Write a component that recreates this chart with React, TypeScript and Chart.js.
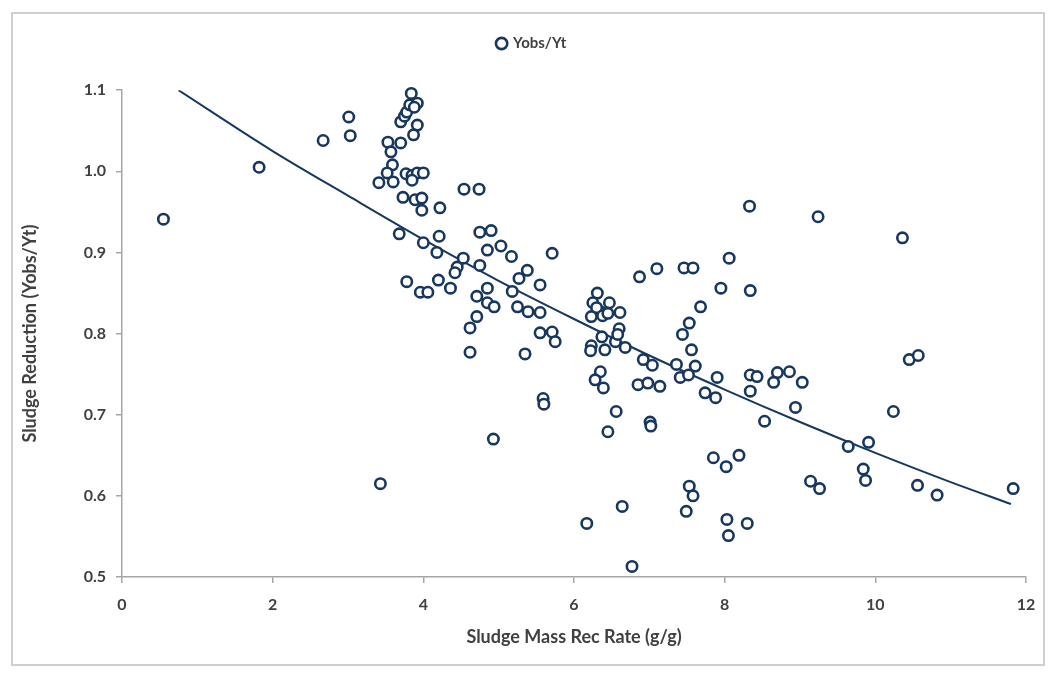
import React, { useEffect, useRef } from "react";
import { Chart, registerables } from "chart.js";

Chart.register(...registerables);

// Scatter observations: Sludge Mass Rec Rate (g/g) vs Yobs/Yt
const rateX: number[] = [
  0.55, 1.82, 2.67, 3.01, 3.03, 3.43, 3.41, 3.53, 3.57, 3.59,
  3.52, 3.60, 3.70, 3.70, 3.75, 3.78, 3.82, 3.84, 3.92, 3.88,
  3.92, 3.87, 3.77, 3.85, 3.92, 4.00, 3.85, 3.73, 3.89, 3.98,
  3.98, 4.22, 3.68, 4.00, 4.21, 4.18, 3.78, 3.96, 4.06, 4.20,
  4.36, 4.45, 4.42, 4.53, 4.54, 4.74, 4.75, 4.90, 4.85, 5.03,
  5.17, 5.71, 4.75, 5.38, 5.27, 5.55, 4.85, 4.71, 5.18, 4.85,
  4.94, 5.25, 5.39, 5.55, 4.71, 4.62, 5.55, 5.71, 5.75, 4.62,
  5.35, 5.59, 5.60, 4.93, 6.31, 6.25, 6.47, 6.35, 6.30, 6.61,
  6.23, 6.38, 6.60, 6.37, 6.23, 6.22, 6.41, 6.55, 6.68, 6.92,
  7.04, 6.35, 6.28, 6.39, 6.85, 6.98, 7.14, 6.56, 6.45, 7.01,
  7.02, 6.17, 6.64, 6.77, 6.87, 7.10, 7.46, 7.58, 8.06, 7.95,
  8.34, 8.33, 7.68, 7.53, 7.44, 7.56, 7.36, 7.61, 7.41, 7.52,
  7.90, 7.74, 7.88, 8.34, 8.43, 8.34, 8.53, 8.70, 8.65, 8.86,
  9.03, 8.94, 7.85, 8.02, 8.19, 7.53, 7.58, 7.49, 8.03, 8.05,
  8.30, 9.24, 9.14, 9.26, 9.64, 9.91, 9.84, 9.87, 10.24, 10.36,
  10.45, 10.57, 10.56, 10.82, 11.83, 6.45, 6.58
];

const yobsYt: number[] = [
  0.941, 1.005, 1.038, 1.067, 1.044, 0.615, 0.986, 1.036, 1.024, 1.008,
  0.998, 0.987, 1.035, 1.061, 1.068, 1.073, 1.082, 1.096, 1.084, 1.079,
  1.057, 1.045, 0.997, 0.995, 0.998, 0.998, 0.989, 0.968, 0.965, 0.967,
  0.952, 0.955, 0.923, 0.912, 0.920, 0.900, 0.864, 0.851, 0.851, 0.866,
  0.856, 0.882, 0.875, 0.893, 0.978, 0.978, 0.925, 0.927, 0.903, 0.908,
  0.895, 0.899, 0.884, 0.878, 0.868, 0.860, 0.856, 0.846, 0.852, 0.838,
  0.833, 0.833, 0.827, 0.826, 0.821, 0.807, 0.801, 0.802, 0.790, 0.777,
  0.775, 0.720, 0.713, 0.670, 0.850, 0.838, 0.838, 0.827, 0.832, 0.826,
  0.821, 0.822, 0.806, 0.796, 0.785, 0.779, 0.780, 0.790, 0.783, 0.768,
  0.761, 0.753, 0.743, 0.733, 0.737, 0.739, 0.735, 0.704, 0.679, 0.691,
  0.686, 0.566, 0.587, 0.513, 0.870, 0.880, 0.881, 0.881, 0.893, 0.856,
  0.853, 0.957, 0.833, 0.813, 0.799, 0.780, 0.762, 0.760, 0.746, 0.749,
  0.746, 0.727, 0.721, 0.749, 0.747, 0.729, 0.692, 0.752, 0.740, 0.753,
  0.740, 0.709, 0.647, 0.636, 0.650, 0.612, 0.600, 0.581, 0.571, 0.551,
  0.566, 0.944, 0.618, 0.609, 0.661, 0.666, 0.633, 0.619, 0.704, 0.918,
  0.768, 0.773, 0.613, 0.601, 0.609, 0.825, 0.799
];

// Trend line
const trendX: number[] = [0.75, 2, 3, 4, 5, 6, 7, 8, 9, 10, 11, 11.8];
const trendY: number[] = [1.1, 1.025, 0.97, 0.916, 0.865, 0.818, 0.773, 0.731, 0.691, 0.653, 0.617, 0.59];

const seriesLabel = "Yobs/Yt";
const xTitle = "Sludge Mass Rec Rate (g/g)";
const yTitle = "Sludge Reduction (Yobs/Yt)";

const NAVY = "#17375E";
const TEXT = "#404040";
const AXIS = "#a6a6a6";
const FONT = "Lato, 'Liberation Sans', sans-serif";

export default function App() {
  const ref = useRef<HTMLCanvasElement | null>(null);

  useEffect(() => {
    if (!ref.current) return;
    const chart = new Chart(ref.current, {
      type: "scatter",
      data: {
        datasets: [
          {
            label: seriesLabel,
            data: rateX.map((x, i) => ({ x, y: yobsYt[i] })),
            pointStyle: "circle",
            pointRadius: 5.2,
            pointBorderWidth: 2.6,
            borderWidth: 2.6,
            borderColor: NAVY,
            backgroundColor: "#ffffff",
            clip: false as any,
            order: 1,
          },
          {
            type: "line" as any,
            label: "trend",
            data: trendX.map((x, i) => ({ x, y: trendY[i] })),
            borderColor: NAVY,
            borderWidth: 2,
            pointRadius: 0,
            fill: false,
            cubicInterpolationMode: "monotone",
            showLine: true,
            order: 2,
          } as any,
        ],
      },
      options: {
        responsive: false,
        animation: false,
        devicePixelRatio: 1,
        layout: { padding: { left: 38, right: 25, top: 0, bottom: 20 } },
        plugins: {
          tooltip: { enabled: false },
          legend: {
            position: "top",
            labels: {
              filter: (item) => item.text === seriesLabel,
              usePointStyle: true,
              boxWidth: 8,
              boxHeight: 8,
              padding: 36,
              color: TEXT,
              font: { family: FONT, size: 15, weight: 700 },
            },
          },
          title: {
            display: true,
            text: "",
            position: "top",
            weight: 500,
            font: { size: 1 },
            padding: { top: 14, bottom: 14 },
          } as any,
        },
        scales: {
          x: {
            type: "linear",
            min: 0,
            max: 12,
            afterFit: (s: any) => {
              s.height = 77;
            },
            ticks: {
              stepSize: 2,
              color: TEXT,
              padding: 12,
              font: { family: FONT, size: 16, weight: 700 },
            },
            grid: { display: true, drawOnChartArea: false, drawTicks: true, tickLength: 6, color: AXIS, lineWidth: 1.5 },
            border: { display: true, color: AXIS, width: 1.5 },
            title: {
              display: true,
              text: xTitle,
              color: TEXT,
              padding: { top: 0, bottom: 6 },
              font: { family: FONT, size: 18, weight: 700 },
            },
          },
          y: {
            type: "linear",
            min: 0.5,
            max: 1.1,
            afterFit: (s: any) => {
              s.width = 84;
            },
            ticks: {
              stepSize: 0.1,
              color: TEXT,
              padding: 10,
              callback: (v: any) => Number(v).toFixed(1),
              font: { family: FONT, size: 16, weight: 700 },
            },
            grid: { display: true, drawOnChartArea: false, drawTicks: true, tickLength: 6, color: AXIS, lineWidth: 1.5 },
            border: { display: true, color: AXIS, width: 1.5 },
            title: {
              display: true,
              text: yTitle,
              color: TEXT,
              padding: { top: -19, bottom: 0 },
              font: { family: FONT, size: 18, weight: 700 },
            },
          },
        },
      },
    });
    return () => chart.destroy();
  }, []);

  return (
    <div style={{ position: "fixed", left: 0, top: 0, width: 1051, height: 674, background: "#ffffff" }}>
      <div
        style={{
          position: "absolute",
          left: 11,
          top: 12,
          width: 1034,
          height: 654,
          border: "2px solid #cfcfcf",
          boxSizing: "border-box",
        }}
      />
      <canvas ref={ref} width={1051} height={674} style={{ position: "absolute", left: 0, top: 0 }} />
    </div>
  );
}
